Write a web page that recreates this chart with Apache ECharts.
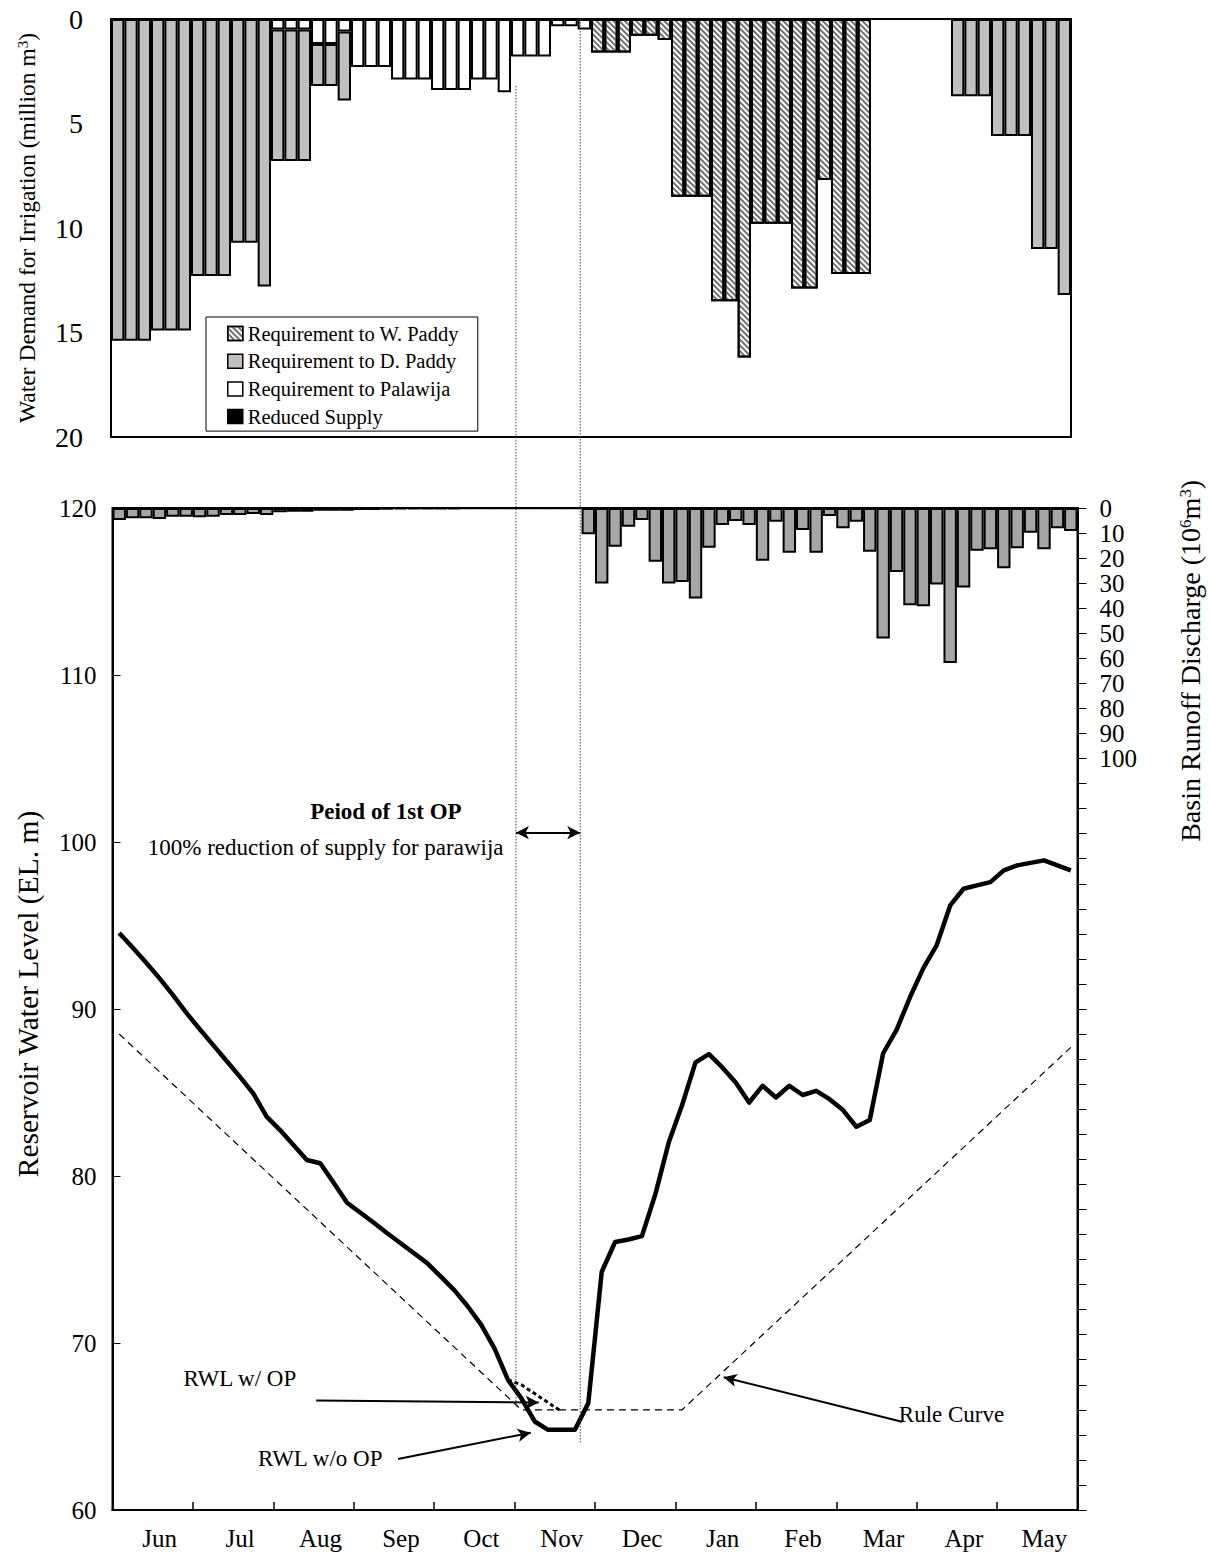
<!DOCTYPE html>
<html><head><meta charset="utf-8">
<script src="https://cdn.jsdelivr.net/npm/echarts@6/dist/echarts.min.js"></script>
<style>html,body{margin:0;padding:0;background:#fff}#c{width:1211px;height:1558px}</style>
</head><body><div id="c"></div>
<script>
// ---------- categories ----------
const MONTHS = ['Jun','Jul','Aug','Sep','Oct','Nov','Dec','Jan','Feb','Mar','Apr','May'];
const PERIODS = MONTHS.flatMap(m => [1,2,3,4,5,6].map(i => m + '-' + i)); // 5-day periods

// ---------- upper panel: water demand for irrigation (million m3) ----------
const PALAWIJA = [0,0,0,0,0,0, 0,0,0,0,0,0, 0.5,0.5,0.5,1.2,1.2,0.6, 2.3,2.3,2.3,2.9,2.9,2.9,
  3.4,3.4,3.4,2.9,2.9,3.5, 1.8,1.8,1.8,0.35,0.35,0.5, 0,0,0,0,0,0, 0,0,0,0,0,0,
  0,0,0,0,0,0, 0,0,0,0,0,0, 0,0,0,0,0,0, 0,0,0,0,0,0];
const D_PADDY = [15.4,15.4,15.4,14.9,14.9,14.9, 12.3,12.3,12.3,10.7,10.7,12.8, 6.3,6.3,6.3,2.0,2.0,3.3,
  0,0,0,0,0,0, 0,0,0,0,0,0, 0,0,0,0,0,0, 0,0,0,0,0,0, 0,0,0,0,0,0,
  0,0,0,0,0,0, 0,0,0,0,0,0, 0,0,0,3.7,3.7,3.7, 5.6,5.6,5.6,11.0,11.0,13.2];
const W_PADDY = [0,0,0,0,0,0, 0,0,0,0,0,0, 0,0,0,0,0,0, 0,0,0,0,0,0, 0,0,0,0,0,0, 0,0,0,0,0,0,
  1.6,1.6,1.6,0.8,0.8,1.0, 8.5,8.5,8.5,13.5,13.5,16.2, 9.8,9.8,9.8,12.9,12.9,7.7,
  12.2,12.2,12.2,0,0,0, 0,0,0,0,0,0, 0,0,0,0,0,0];
const REDUCED = [0,0,0,0,0,0, 0,0,0,0,0,0, 0,0,0,0,0,0, 0,0,0,0,0,0, 0,0,0,0,0,0, 0,0,0,0,0,0,
  0,0,0,0,0,0, 0,0,0,0,0,0, 0,0,0,0,0,0, 0,0,0,0,0,0, 0,0,0,0,0,0, 0,0,0,0,0,0];

// ---------- lower panel ----------
const RUNOFF = [4.8,4.1,4.1,4.4,3.5,3.5, 3.7,3.5,2.8,2.8,2.4,2.8, 1.7,1.5,1.5,1.1,1.1,1.1,
  0.8,0.8,0.5,0.4,0.4,0.3, 0.3,0.3,0.2,0.2,0.2,0.2, 0.2,0.2,0.2,0.2,0.2,10.5,
  30.1,15.5,7.5,4.8,21.5,30.1, 29.5,36.1,15.9,6.8,5.2,6.8, 21.1,5.5,17.9,8.8,17.9,3.2,
  8.1,5.5,17.5,52.1,25.5,38.8, 39.2,30.5,61.9,31.7,17.1,16.5, 24.1,16.1,9.9,16.5,8.1,9.2];
const LEVEL_WO_OP = [94.55,93.68,92.78,91.85,90.84,89.78, 88.8,87.85,86.9,85.95,84.95,83.55,
  82.75,81.86,80.96,80.76,79.6,78.4, 77.8,77.2,76.57,75.97,75.37,74.77,
  73.97,73.17,72.2,71.1,69.68,67.8, 66.7,65.3,64.8,64.8,64.8,66.4,
  74.25,76.05,76.2,76.4,78.9,82.0, 84.25,86.8,87.3,86.5,85.6,84.4,
  85.4,84.7,85.4,84.85,85.1,84.6, 83.95,82.95,83.35,87.35,88.75,90.7,
  92.45,93.83,96.2,97.2,97.4,97.6, 98.3,98.6,98.75,98.9,98.6,98.3];
const LEVEL_W_OP = [null,null,null,null,null,null, null,null,null,null,null,null,
  null,null,null,null,null,null, null,null,null,null,null,null,
  null,null,null,null,null,67.8, 67.5,66.97,66.43,65.9,null,null,
  null,null,null,null,null,null, null,null,null,null,null,null,
  null,null,null,null,null,null, null,null,null,null,null,null,
  null,null,null,null,null,null, null,null,null,null,null,null];
const RULE_PERIOD = [0, 30, 42, 71];          // break points of the rule curve (period index)
const RULE_LEVEL  = [88.5, 66.0, 66.0, 87.7]; // EL. m

const WD_TICKS = [0, 20, 5];      // min, max, step
const RWL_TICKS = [60, 120, 10];
const RO_TICKS = [0, 400, 10];
const RO_LABEL_MAX = 100;

// ---------- annotations (data units: [period index, EL. m]) ----------
const OP_START = 29.6, OP_END = 34.4;
const ARROWS = [
  {from:[14.7, 66.55], to:[31.3, 66.43]},
  {from:[20.8, 63.05], to:[30.7, 64.63]},
  {from:[58.4, 65.29], to:[45.1, 67.95]},
  {from:[OP_START, 100.56], to:[OP_END, 100.56], both:true}
];
const NOTES = [
  {text:'RWL w/ OP', at:[9.0, 67.9]},
  {text:'RWL w/o OP', at:[15.0, 63.1]},
  {text:'Rule Curve', at:[62.1, 65.7]},
  {text:'Peiod of 1st OP', at:[19.9, 101.85], bold:true},
  {text:'100% reduction of supply for parawija', at:[15.4, 99.7]}
];

const FONT = 'Liberation Serif';
const nz = a => a.map(v => (v === 0 ? '-' : v));
const chart = echarts.init(document.getElementById('c'), null, {renderer:'svg'});

const barBase = {type:'bar', xAxisIndex:0, yAxisIndex:0, stack:'req', barCategoryGap:'0%'};
const border = {borderColor:'#000', borderWidth:2};

const option = {
  animation:false,
  backgroundColor:'#fff',
  textStyle:{fontFamily:FONT, color:'#000'},
  grid:[
    {left:111, top:19, width:960, height:418, show:true, borderColor:'#000', borderWidth:2},
    {left:112.5, top:508, width:965, height:1002, show:true, borderColor:'#000', borderWidth:2}
  ],
  legend:{
    data:['Requirement to W. Paddy','Requirement to D. Paddy','Requirement to Palawija','Reduced Supply'],
    orient:'vertical', left:206, top:317, padding:[6,19,4,21],
    itemGap:6.7, itemWidth:15, itemHeight:14, icon:'rect',
    backgroundColor:'#fff', borderColor:'#000', borderWidth:1,
    textStyle:{fontFamily:FONT, fontSize:20.5, color:'#000', lineHeight:20},
    itemStyle:{borderColor:'#000', borderWidth:1.5},
    selectedMode:false
  },
  xAxis:[
    {type:'category', gridIndex:0, data:PERIODS, show:false},
    {type:'category', gridIndex:1, data:PERIODS, show:false},
    {type:'category', gridIndex:1, data:MONTHS, position:'bottom',
      axisLine:{show:true, onZero:false, lineStyle:{color:'#000', width:2}},
      axisTick:{show:true, inside:true, length:8, lineStyle:{color:'#000', width:1.5}},
      axisLabel:{fontSize:25, color:'#000', margin:16, fontFamily:FONT, padding:[0,0,0,14]},
      splitLine:{show:false}},
    {type:'value', gridIndex:1, min:-0.5, max:71.5, show:false}
  ],
  yAxis:[
    {type:'value', gridIndex:0, inverse:true, min:WD_TICKS[0], max:WD_TICKS[1], interval:WD_TICKS[2],
      axisLine:{show:true, onZero:false, lineStyle:{color:'#000', width:2}},
      axisTick:{show:true, inside:true, length:10, lineStyle:{color:'#000', width:1}},
      axisLabel:{fontSize:28, margin:28, color:'#000', fontFamily:FONT},
      splitLine:{show:false},
      name:'{a|Water Demand for Irrigation (million m}{s|3}{a|)}',
      nameLocation:'middle', nameRotate:90, nameGap:72,
      nameTextStyle:{fontSize:23.5, fontFamily:FONT, color:'#000',
        rich:{a:{fontSize:23.5, fontFamily:FONT, color:'#000'}, s:{fontSize:15, fontFamily:FONT, color:'#000', verticalAlign:'top'}}}},
    {type:'value', gridIndex:1, position:'left', min:RWL_TICKS[0], max:RWL_TICKS[1], interval:RWL_TICKS[2],
      axisLine:{show:true, onZero:false, lineStyle:{color:'#000', width:2}},
      axisTick:{show:true, inside:true, length:8, lineStyle:{color:'#000', width:1}},
      axisLabel:{fontSize:25, margin:16, color:'#000', fontFamily:FONT},
      splitLine:{show:false},
      name:'Reservoir Water Level (EL. m)', nameLocation:'middle', nameRotate:90, nameGap:70,
      nameTextStyle:{fontSize:29.5, fontFamily:FONT, color:'#000', padding:[0,0,0,30]}},
    {type:'value', gridIndex:1, position:'right', inverse:true, min:RO_TICKS[0], max:RO_TICKS[1], interval:RO_TICKS[2],
      axisLine:{show:true, onZero:false, lineStyle:{color:'#000', width:2}},
      axisTick:{show:true, inside:false, length:9, lineStyle:{color:'#000', width:1}},
      axisLabel:{fontSize:25, margin:22, color:'#000', fontFamily:FONT,
        formatter:v => (v <= RO_LABEL_MAX ? String(v) : '')},
      splitLine:{show:false}}
  ],
  series:[
    Object.assign({}, barBase, {name:'Requirement to Palawija', data:nz(PALAWIJA),
      itemStyle:Object.assign({color:'#ffffff'}, border)}),
    Object.assign({}, barBase, {name:'Requirement to D. Paddy', data:nz(D_PADDY),
      itemStyle:Object.assign({color:'#c0c0c0'}, border)}),
    Object.assign({}, barBase, {name:'Requirement to W. Paddy', data:nz(W_PADDY),
      itemStyle:Object.assign({color:'#ffffff',
        decal:{symbol:'rect', symbolSize:1, color:'#707070', dashArrayX:[1,0], dashArrayY:[1.2,2.0], rotation:Math.PI/4}}, border)}),
    Object.assign({}, barBase, {name:'Reduced Supply', data:nz(REDUCED),
      itemStyle:Object.assign({color:'#000000'}, border)}),
    {type:'bar', name:'Basin Runoff Discharge', xAxisIndex:1, yAxisIndex:2, data:RUNOFF, barCategoryGap:'0%',
      itemStyle:{color:'#a6a6a6', borderColor:'#000', borderWidth:2}},
    {type:'line', name:'RWL w/o OP', xAxisIndex:1, yAxisIndex:1, data:LEVEL_WO_OP, showSymbol:false, z:5,
      lineStyle:{color:'#000', width:4.5, join:'round'}},
    {type:'line', name:'RWL w/ OP', xAxisIndex:1, yAxisIndex:1, data:LEVEL_W_OP, showSymbol:false, z:5,
      lineStyle:{color:'#000', width:3, type:[4,3]}},
    {type:'line', name:'Rule Curve', xAxisIndex:3, yAxisIndex:1, showSymbol:false, z:4,
      data:RULE_PERIOD.map((p, i) => [p, RULE_LEVEL[i]]),
      lineStyle:{color:'#000', width:1.2, type:[7,5]},
      markLine:{silent:true, symbol:['none','arrow'], symbolSize:[10,13],
        lineStyle:{color:'#000', width:2, type:'solid'}, label:{show:false},
        data:ARROWS.map(a => [{coord:a.from, symbol:a.both ? 'arrow' : 'none'}, {coord:a.to, symbol:'arrow'}])},
      markPoint:{silent:true, symbol:'circle', symbolSize:0,
        data:NOTES.map(n => ({coord:n.at, value:n.text,
          label:{show:true, position:'inside', formatter:n.text, color:'#000', fontFamily:FONT,
            fontSize:23, fontWeight:n.bold ? 'bold' : 'normal'}}))}}
  ]
};
chart.setOption(option);

// dotted period lines spanning both panels, placed through the axes' scales
const xS = chart.convertToPixel({xAxisIndex:3}, OP_START);
const xE = chart.convertToPixel({xAxisIndex:3}, OP_END);
const yTopS = chart.convertToPixel({yAxisIndex:0}, 3.2);
const yTopE = chart.convertToPixel({yAxisIndex:0}, 0);
const yBotS = chart.convertToPixel({yAxisIndex:1}, 66.2);
const yBotE = chart.convertToPixel({yAxisIndex:1}, 64.05);
const xRightName = chart.convertToPixel({xAxisIndex:3}, 71.5) + 113;
const yRightName = chart.convertToPixel({yAxisIndex:2}, 61);
chart.setOption({graphic:[
  {type:'line', silent:true, z:50, shape:{x1:xS, y1:yTopS, x2:xS, y2:yBotS},
    style:{stroke:'#444', lineWidth:1, lineDash:[1.5,1.5]}},
  {type:'line', silent:true, z:50, shape:{x1:xE, y1:yTopE, x2:xE, y2:yBotE},
    style:{stroke:'#444', lineWidth:1, lineDash:[1.5,1.5]}},
  {type:'text', silent:true, x:xRightName, y:yRightName, rotation:Math.PI/2,
    style:{text:'{a|Basin Runoff Discharge (10}{s|6}{a|m}{s|3}{a|)}', align:'center', verticalAlign:'middle',
      fontSize:28, fontFamily:FONT, fill:'#000',
      rich:{a:{fontSize:28, fontFamily:FONT, fill:'#000'}, s:{fontSize:17, fontFamily:FONT, fill:'#000', verticalAlign:'top'}}}}
]});
</script>
</body></html>
